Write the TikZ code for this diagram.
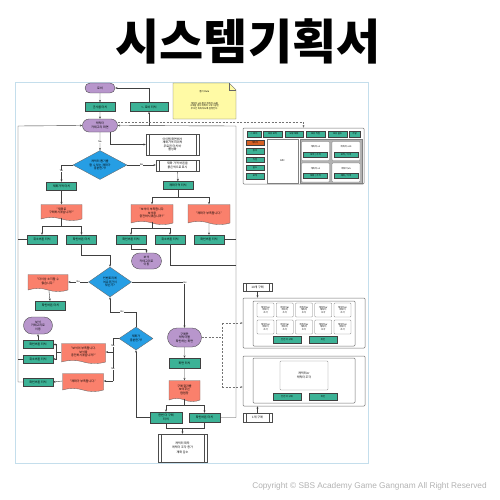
\documentclass[tikz,border=0pt]{standalone}
\usepackage{fontspec}
\setmainfont{Noto Sans CJK KR}
\newfontfamily\latinsans{Liberation Sans}
\usetikzlibrary{shapes,arrows.meta}
\definecolor{btngreen}{RGB}{60,178,150}
\definecolor{scrpurple}{RGB}{184,150,204}
\definecolor{msgred}{RGB}{250,128,108}
\definecolor{decblue}{RGB}{38,158,228}
\definecolor{noteyellow}{RGB}{255,250,165}
\definecolor{taborange}{RGB}{214,96,36}
\definecolor{framecol}{RGB}{196,222,236}
\newcommand{\kotiny}{\fontsize{3}{3.5}\selectfont}
\newcommand{\kolabel}{\fontsize{2.3}{2.7}\selectfont}

\begin{document}
\begin{tikzpicture}[x=1pt,y=-1pt,
  line/.style={draw=black!75,line width=0.4pt},
  arr/.style={line,-{Stealth[length=2.4pt,width=2pt]}},
  dashline/.style={draw=black!55,line width=0.5pt,dash pattern=on 2pt off 1.5pt},
  dasharr/.style={dashline,-{Stealth[length=2.4pt,width=2pt]}},
  btn/.style={draw=black!75,fill=btngreen,line width=0.35pt,minimum width=30,minimum height=9,inner sep=0.5pt,font=\kotiny,align=center},
  tab/.style={btn,minimum height=5.5,font=\kolabel},
  scr/.style={rounded rectangle,draw=black!75,fill=scrpurple,line width=0.35pt,inner sep=0.5pt,font=\kotiny,align=center},
  dec/.style={diamond,aspect=1.8,draw=black!60,fill=decblue,line width=0.35pt,inner sep=0pt,font=\kotiny,align=center},
  msg/.style={tape,tape bend top=none,tape bend bottom=out and in,tape bend height=3pt,draw=black!60,fill=msgred,line width=0.35pt,inner sep=0.5pt,font=\kotiny,align=center},
  proc/.style={draw=black!70,fill=white,line width=0.35pt,inner sep=0.5pt,font=\kotiny,align=center,
    path picture={\draw[black!70,line width=0.35pt] ([xshift=3pt]path picture bounding box.north west) -- ([xshift=3pt]path picture bounding box.south west)
      ([xshift=-3pt]path picture bounding box.north east) -- ([xshift=-3pt]path picture bounding box.south east);}},
  card/.style={draw=black!50,fill=white,rounded corners=0.8,line width=0.35pt,inner sep=0.3pt,font=\kolabel,align=center},
  panelbox/.style={draw=black!55,fill=white,rounded corners=1,line width=0.5pt},
  lbl/.style={fill=white,inner sep=0.4pt,font=\kolabel}]
\useasboundingbox (0,0) rectangle (500,500);

% title and frame
\node[font=\fontsize{48}{52}\selectfont\bfseries,anchor=base] (title) at (248,60) {시스템기획서};
\draw[framecol,line width=0.6pt] (15,82) rectangle (368,463);
\node[font=\latinsans\fontsize{8.3}{9}\selectfont,text=black!30] (copy) at (369.5,486) {Copyright © SBS Academy Game Gangnam All Right Reserved};

% rule note
\draw[black!60,fill=noteyellow,line width=0.35pt] (173,83) -- (229,83) -- (236,90) -- (236,119) -- (173,119) -- cycle;
\draw[black!60,line width=0.35pt] (229,83) -- (229,90) -- (236,90);
\node[font=\kolabel] (ruletitle) at (204.5,92) {뽑기 Rule};
\node[font=\kolabel,align=center] (ruletext) at (204.5,106) {캐릭터 x10 혹은 캐릭터 x5를\\구매할 경우 캐릭터 1개 이상은\\무조건 획득하도록 설정한다.};

% lobby and category
\node[scr,minimum width=31,minimum height=10] (lobby) at (100,88) {로비};
\node[btn] (gunsa) at (100,107) {군사룸 터치};
\node[btn,minimum width=38] (backlobby) at (149,107) {<- 로비 터치};
\node[scr,minimum width=36,minimum height=13] (catscreen) at (100,125.5) {캐릭터\\카테고리 화면};
\node[proc,minimum width=53,minimum height=21] (itemhint) at (172.5,144.5) {아이템 화면에서\\재화가격 미리의\\무료권 터치 바\\활성화};
\node[dec,minimum width=54,minimum height=29] (enough) at (100,165) {캐릭터 뽑기를\\할 수 있는 재화가\\충분한가?};
\node[proc,minimum width=43,minimum height=11] (redprice) at (177.5,165.5) {재화 가격 버튼을\\붉은색으로 표시};

% enough currency
\node[btn,minimum height=8] (paytouchL) at (61.5,186) {재화가격 터치};
\node[msg,minimum width=41,minimum height=16] (askL) at (61.5,211) {"재화로\\구매하시겠습니까?"};
\node[btn] (cancelL) at (42,239.5) {취소버튼 터치};
\node[btn] (okL) at (81.5,239.5) {확인버튼 터치};

% not enough currency
\node[btn,minimum height=8] (paytouchR) at (178,185.5) {재화가격 터치};
\node[msg,minimum width=42,minimum height=20] (gemShort) at (152,213) {"보석이 부족합니다.\\보석을\\충전하시겠습니까?"};
\node[msg,minimum width=42,minimum height=20] (payShort) at (209,213) {"재화가 부족합니다."};
\node[btn] (okA) at (131,239.5) {확인버튼 터치};
\node[btn] (cancelA) at (170,239.5) {취소버튼 터치};
\node[btn] (okB) at (209,239.5) {확인버튼 터치};
\node[scr,minimum width=31,minimum height=16] (gemcat) at (146.5,261) {보석\\카테고리로\\이동};

% inventory check
\node[dec,minimum width=43,minimum height=30] (roomok) at (110,282) {인벤토리에\\여유공간이\\있는가?};
\node[msg,minimum width=40,minimum height=17] (fullmsg) at (48,281.5) {"더이상 소지할 수\\없습니다."};
\node[btn] (okFull) at (50.5,305.5) {확인버튼 터치};

% buy again check
\node[dec,minimum width=34,minimum height=23] (payok) at (136,338.5) {재화가\\충분한가?};
\node[scr,minimum width=30,minimum height=17] (gemcat2) at (38,325.5) {보석\\카테고리로\\이동};
\node[btn,minimum height=8] (okC) at (38,344.5) {확인버튼 터치};
\node[btn,minimum height=8] (cancelC) at (38,359) {취소버튼 터치};
\node[msg,minimum width=44,minimum height=20] (gemShort2) at (83.5,352) {"보석이 부족합니다.\\보석을\\충전하시겠습니까?"};
\node[btn,minimum height=8] (okD) at (38,382) {확인버튼 터치};
\node[msg,minimum width=41,minimum height=18] (payShort2) at (83,381) {"재화가 부족합니다."};

% result
\node[scr,minimum width=35,minimum height=19] (result) at (184.5,337.5) {구매한\\캐릭터를\\확인하는 화면};
\node[btn,minimum width=31,minimum height=10] (touch) at (184.5,363) {화면 터치};
\node[msg,minimum width=31,minimum height=21] (resultpop) at (184.5,389.5) {구매 결과를\\보여주는\\팝업창};
\node[btn,minimum width=32,minimum height=11] (again) at (166,417.5) {한번 더 구매\\터치};
\node[btn,minimum width=31] (okE) at (204.5,417.5) {확인버튼 터치};
\node[proc,minimum width=49,minimum height=28] (gain) at (182.5,448) {캐릭터 획득\\캐릭터 조각 증가\\[2pt]재화 감소};

% rails
\coordinate (rail) at (236,126);
\coordinate (lrail) at (18,126);

% connectors
\draw[arr] (backlobby.north) |- (lobby.east);
\draw[arr] (lobby) -- (gunsa);
\draw[arr] (gunsa) -- (catscreen);
\draw[arr] (okE.east) -| (rail) -- (catscreen.east);
\draw[arr] (backlobby.south |- catscreen.east) -- (backlobby.south);
\draw[arr] (okD.west) -| (lrail) -- (catscreen.west);
\draw[line] (cancelL.west) -- (cancelL.west -| lrail);
\draw[line] (cancelC.west) -- (cancelC.west -| lrail);
\draw[arr] (catscreen) -- node[lbl]{No} (enough);
\draw[arr] ([xshift=10pt]catscreen.south) |- (itemhint.west);
\draw[arr] (enough.east) -- node[lbl]{No} (enough.east -| redprice.west);
\draw[arr] (redprice) -- (paytouchR);
\draw[arr] (enough.west) -| (paytouchL.north);
\node[lbl] (yes1) at (61.5,171) {Yes};
\draw[arr] (paytouchL) -- (askL);
\draw[line] (askL.south) -- (61.5,226) coordinate (sL);
\draw[arr] (sL) -| (cancelL.north);
\draw[arr] (sL) -| (okL.north);
\draw[arr] (okL.south) -- ++(0,11) -| (roomok.north);
\draw[line] (paytouchR.south) -- (178,197) coordinate (sR);
\draw[arr] (sR) -| (gemShort.north);
\draw[arr] (sR) -| (payShort.north);
\draw[line] (gemShort.south) -- (152,228) coordinate (sG);
\draw[arr] (sG) -| (okA.north);
\draw[arr] (sG) -| (cancelA.north);
\draw[arr] (payShort) -- (okB);
\draw[arr] (okA.south) -- ++(0,5) -| (gemcat.north);
\draw[line] (cancelA.south) |- (rail |- 0,265);
\draw[line] (okB.east) -- (okB.east -| rail);
\draw[arr] (roomok.east) -| (result.north);
\node[lbl] (yes2) at (185,283) {Yes};
\draw[arr] (roomok.west) -- node[lbl]{No} (fullmsg.east |- roomok.west);
\draw[arr] (fullmsg) -- (okFull);
\draw[arr] (payok.north) -- ++(0,-15) -| (roomok.south);
\node[lbl] (yes3) at (122,311.5) {Yes};
\draw[line] (payok.west) -- (113,338.5) -- (113,381);
\draw[arr] (113,352) -- (gemShort2.east);
\draw[arr] (113,381) -- (payShort2.east);
\node[lbl] (no3) at (113,346) {No};
\node[lbl] (no4) at (113,369) {No};
\draw[line] (gemShort2.west) -- ++(-5.5,0) coordinate (sC);
\draw[arr] (sC) |- (okC.east);
\draw[arr] (sC) |- (cancelC.east);
\draw[arr] (okC) -- (gemcat2);
\draw[arr] (payShort2.west) -- (okD.east);
\draw[arr] (result) -- (touch);
\draw[arr] (touch) -- (resultpop);
\draw[line] (resultpop.south) -- (184.5,405) coordinate (sP);
\draw[arr] (sP) -| (again.north);
\draw[arr] (sP) -| (okE.north);
\draw[arr] (again.west) -| (payok.south);
\coordinate (mg) at (182.5,428);
\draw[line] (again.south) |- (mg);
\draw[line] (okE.south) |- (mg);
\draw[arr] (mg) -- (gain.north);

% NPC shop screen
\node[panelbox,minimum width=121,minimum height=56] (npcshop) at (303.5,156) {};
\draw[dasharr] ([yshift=3.5pt]catscreen.east) -| (npcshop.north);
\foreach \cx/\w/\t [count=\i] in {254/14/{<- 로비},272.5/19/보유 보석,294/18/보유 재화,315.5/19/보유 직업,337.5/19/보유 골드,354.5/11/가방}
  \node[tab,minimum width=\w] (tab\i) at (\cx,134) {\t};
\node[tab,minimum width=18,fill=taborange] (menu1) at (255,142.5) {캐릭터};
\foreach \cy/\t [count=\i from 2] in {151/장비,159.5/직업,167.5/골드,176/보석}
  \node[tab,minimum width=18] (menu\i) at (255,\cy) {\t};
\node[card,rounded corners=0,minimum width=31,minimum height=44] (npc) at (282.5,161) {NPC};
\draw[black!50,fill=black!30,line width=0.35pt] (300,139) rectangle (362,183);
\foreach \cx/\cy/\n/\c [count=\i] in {315.5/151/x1/보석,346/151/x10/보석,315.5/172.5/x1/재화,346/172.5/x5/재화}{
  \node[card,minimum width=28,minimum height=19] (offer\i) at (\cx,\cy) {};
  \node[font=\kolabel] (offertxt\i) at (\cx,\cy-4) {캐릭터 \n};
  \node[tab,minimum width=24,minimum height=5] (offerbtn\i) at (\cx,\cy+3.5) {\c{} / 가격};
}

% ten pick screen
\node[proc,minimum width=29,minimum height=8] (buy10) at (257.5,287) {10개 구매};
\node[panelbox,minimum width=122,minimum height=50] (pick10) at (304,323) {};
\draw[black!55,line width=0.5pt,rounded corners=1] (253,301) rectangle (355,346);
\foreach \col in {0,...,4}
  \foreach \row in {0,1}
    \node[card,minimum width=17,minimum height=14] (p\col\row) at (265.5+19.25*\col,310+17*\row) {캐릭터or\\캐릭터\\조각};
\node[tab,minimum width=28,minimum height=6.5] (again10) at (287,339.5) {한번 더 구매};
\node[tab,minimum width=28,minimum height=6.5] (ok10) at (323,339.5) {확인};
\draw[arr] (buy10.south) -- (buy10.south |- pick10.north);

% one pick screen
\node[panelbox,minimum width=122,minimum height=50] (pick1) at (304,381) {};
\draw[black!55,line width=0.5pt,rounded corners=1] (253,358) rectangle (355,403);
\node[card,minimum width=48,minimum height=29,font=\kotiny] (bigcard) at (304,375.5) {캐릭터or\\캐릭터 조각};
\node[tab,minimum width=28,minimum height=6.5] (again1) at (287,396.5) {한번 더 구매};
\node[tab,minimum width=28,minimum height=6.5] (ok1) at (323,396.5) {확인};
\node[proc,minimum width=29,minimum height=9] (buy1) at (257.5,417.5) {1개 구매};
\draw[arr] (buy1.north) -- (buy1.north |- pick1.south);

% result screen to pick screens
\draw[dashline] (result.east) -- (222,337.5);
\draw[dashline] (222,323) coordinate (dj1) -- (222,387) coordinate (dj2);
\draw[dasharr] (dj1) -- (pick10.west);
\draw[dasharr] (dj2) -- (dj2 -| pick1.west);
\end{tikzpicture}
\end{document}
